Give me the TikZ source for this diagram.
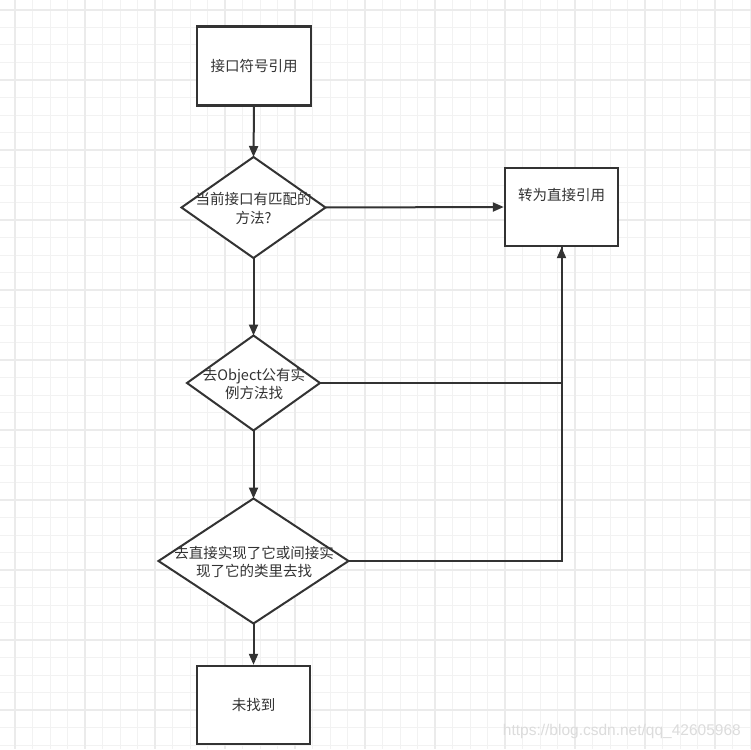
\documentclass[tikz,border=0pt]{standalone}
\usepackage{fontspec}
\setmainfont{Noto Sans CJK SC}
\newfontfamily\wmfont{Liberation Sans}
\usetikzlibrary{arrows.meta,shapes.geometric}
\definecolor{ln}{HTML}{333333}
\definecolor{tx}{HTML}{333333}
\definecolor{gridminor}{HTML}{F2F2F2}
\definecolor{gridmajor}{HTML}{EBEBEB}
\definecolor{wm}{HTML}{DCDCDC}
\begin{document}
\begin{tikzpicture}[x=1pt,y=-1pt,
  box/.style={draw=ln, line width=2.4pt, fill=white, rectangle, minimum width=113pt, minimum height=78pt, inner sep=0pt},
  dia/.style={draw=ln, line width=2pt, fill=white, diamond, inner sep=0pt, outer sep=0pt},
  lbl/.style={text=tx, font=\fontsize{14.5}{18.5}\selectfont, align=center, inner sep=0pt},
  arr/.style={draw=ln, line width=2pt, -{Triangle[length=11pt,width=9pt]}},
  conn/.style={draw=ln, line width=2pt}
]
\useasboundingbox (0,0) rectangle (751,749);
\fill[white] (0,0) rectangle (751,749);
% grid
\foreach \i in {0,...,43} {
  \draw[gridminor, line width=1pt] ({-2.5+17.5*\i},0) -- ({-2.5+17.5*\i},749);
  \draw[gridminor, line width=1pt] (0,{-7.5+17.5*\i}) -- (751,{-7.5+17.5*\i});
}
\foreach \i in {0,...,10} {
  \draw[gridmajor, line width=1.4pt] ({15+70*\i},0) -- ({15+70*\i},749);
  \draw[gridmajor, line width=1.4pt] (0,{10+70*\i}) -- (751,{10+70*\i});
}
% shapes
\node[box, minimum width=114pt, minimum height=79pt] (b1) at (254,66) {};
\node[lbl] (t1) at (254,66) {接口符号引用};
\node[dia, minimum width=144pt, minimum height=101pt] (d1) at (253.5,207.5) {};
\node[lbl] (t2) at (253.5,208.5) {当前接口有匹配的\\方法?};
\node[box] (b2) at (561.5,207) {};
\node[lbl] (t3) at (561.5,195) {转为直接引用};
\node[dia, minimum width=133pt, minimum height=95pt] (d2) at (253.5,383) {};
\node[lbl] (t4) at (254,384) {去Object公有实\\例方法找};
\node[dia, minimum width=190pt, minimum height=125pt] (d3) at (253.5,561) {};
\node[lbl] (t5) at (254,562) {去直接实现了它或间接实\\现了它的类里去找};
\node[box] (b3) at (253.5,705) {};
\node[lbl] (t6) at (253.5,705) {未找到};
% connectors
\draw[arr] (b1.south) -- (d1.north);
\draw[arr] (d1.east) -- (b2.west);
\draw[arr] (d1.south) -- (d2.north);
\draw[arr] (d2.south) -- (d3.north);
\draw[arr] (d3.south) -- (b3.north);
\draw[conn] (d3.east) -| (b2.south);
\draw[arr] (d2.east) -| (b2.south);
% watermark
\node[text=wm, font=\wmfont\fontsize{15.5}{18}\selectfont, anchor=east, inner sep=0pt] (wmk) at (741,731) {https://blog.csdn.net/qq\_42605968};
\end{tikzpicture}
\end{document}
